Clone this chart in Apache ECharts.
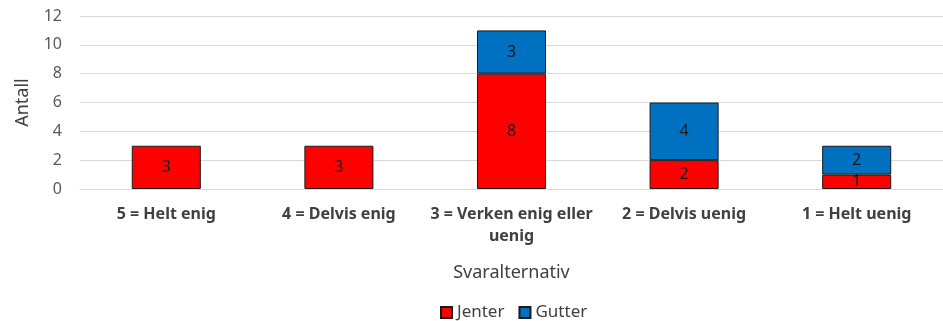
<!DOCTYPE html>
<html>
<head>
<meta charset="utf-8">
<script src="https://cdn.jsdelivr.net/npm/echarts@6/dist/echarts.min.js"></script>
<style>
  html, body { margin: 0; padding: 0; background: #fff; overflow: hidden; }
  #chart { width: 943px; height: 321px; }
</style>
</head>
<body>
<div id="chart"></div>
<script>
// Survey responses per answer option, split by group
const categories = ['5 = Helt enig', '4 = Delvis enig', '3 = Verken enig eller\nuenig', '2 = Delvis uenig', '1 = Helt uenig'];
const jenter = [3, 3, 8, 2, 1];
const gutter = [null, null, 3, 4, 2];
const yTicks = { min: 0, max: 12, interval: 2 };

const font = 'Noto Sans';
const labelStyle = {
  show: true,
  position: 'inside',
  color: '#1a1a1a',
  fontSize: 16,
  fontFamily: font
};

const chart = echarts.init(document.getElementById('chart'));
chart.setOption({
  animation: false,
  textStyle: { fontFamily: font },
  grid: { left: 80, width: 870, top: 16, bottom: 132 },
  legend: {
    top: 299,
    left: 435,
    itemWidth: 11,
    itemHeight: 11,
    itemGap: 14,
    textStyle: { color: '#404040', fontSize: 17, fontFamily: font },
    data: [
      { name: 'Jenter', icon: 'rect' },
      { name: 'Gutter', icon: 'rect' }
    ]
  },
  xAxis: {
    type: 'category',
    data: categories,
    name: 'Svaralternativ',
    nameLocation: 'middle',
    nameGap: 75,
    nameTextStyle: { color: '#404040', fontSize: 18, fontFamily: font },
    axisLine: { lineStyle: { color: '#d9d9d9' } },
    axisTick: { show: false },
    axisLabel: {
      color: '#404040',
      fontSize: 16,
      fontWeight: 'bold',
      fontFamily: font,
      margin: 14,
      lineHeight: 22,
      interval: 0
    }
  },
  yAxis: {
    type: 'value',
    min: yTicks.min,
    max: yTicks.max,
    interval: yTicks.interval,
    name: 'Antall',
    nameLocation: 'middle',
    nameGap: 48,
    nameTextStyle: { color: '#404040', fontSize: 18, fontFamily: font },
    axisLine: { show: false },
    axisTick: { show: false },
    axisLabel: { color: '#595959', fontSize: 16, fontFamily: font, margin: 18 },
    splitLine: { lineStyle: { color: '#d9d9d9', width: 1 } }
  },
  series: [
    {
      name: 'Jenter',
      type: 'bar',
      stack: 'total',
      barWidth: '40%',
      data: jenter,
      itemStyle: { color: '#ff0000', borderColor: '#1a1a1a', borderWidth: 1 },
      label: labelStyle
    },
    {
      name: 'Gutter',
      type: 'bar',
      stack: 'total',
      barWidth: '40%',
      data: gutter,
      itemStyle: { color: '#0070c0', borderColor: '#1a1a1a', borderWidth: 1 },
      label: labelStyle
    }
  ]
});
</script>
</body>
</html>
